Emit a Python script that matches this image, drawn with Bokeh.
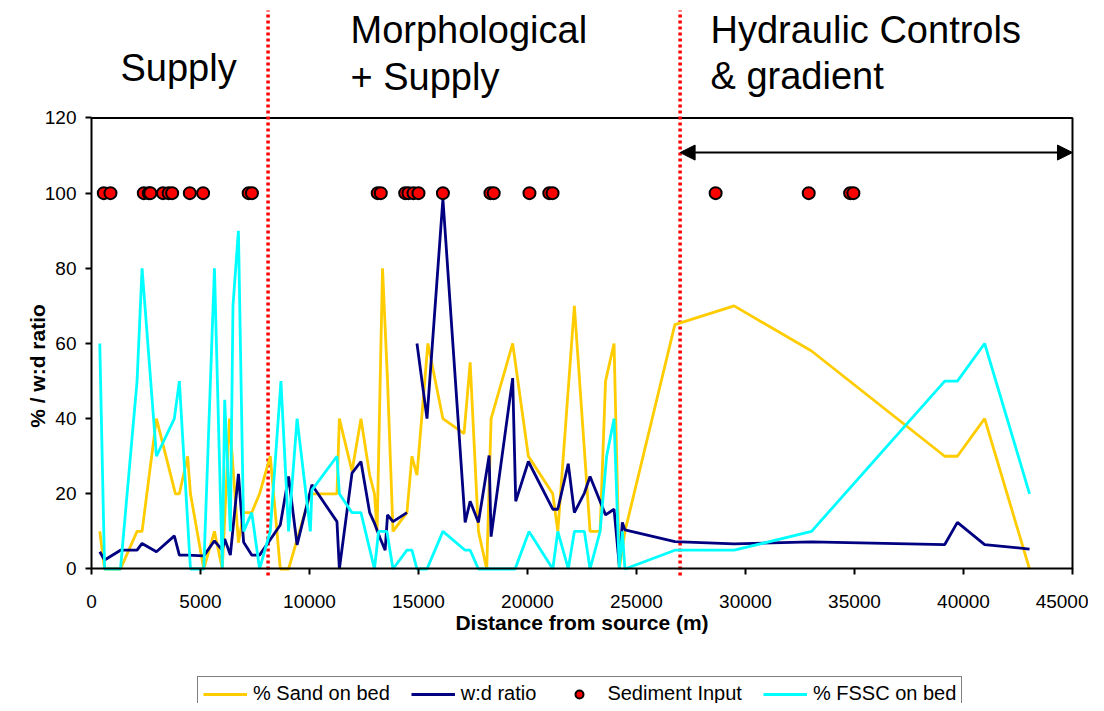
import numpy as np
from bokeh.plotting import figure
from bokeh.models import (Range1d, Label, Legend, LegendItem, Arrow, NormalHead,
                          SingleIntervalTicker)
from bokeh.embed import file_html
from bokeh.resources import INLINE

FONT = "Liberation Sans"

# ---------------- data ----------------
sand_x = [380, 600, 1330, 2090, 2320, 2980, 3850, 4030, 4410, 4540, 5150, 5640, 6000,
          6330, 6740, 6980, 7350, 7710, 8200, 8660, 9040, 10040, 11260, 11370, 11950,
          12360, 12760, 12980, 13100, 13350, 13580, 13830, 14470, 14700, 14930, 15430,
          16120, 17090, 17370, 17750, 18130, 18330, 19320, 20040, 21160, 21390, 22150,
          22870, 23330, 23580, 23970, 24210, 24470, 26760, 29480, 33030, 39140, 39720,
          40970, 43030]
sand_y = [10, 0, 0, 10, 10, 40, 20, 20, 30, 20, 0, 10, 0,
          40, 7, 15, 15, 20, 30, 0, 0, 20, 20, 40, 26,
          40, 25, 20, 10, 80, 50, 10, 15, 30, 25, 60,
          40, 36, 55, 10, 0, 40, 60, 30, 20, 10, 70,
          10, 10, 50, 60, 0, 10, 65, 70, 58, 30, 30,
          40, 0]

wd_x = [380, 600, 1330, 2090, 2320, 2980, 3800, 4030, 4410, 5150, 5640, 6000, 6110,
        6370, 6740, 6980, 7350, 7710, 8660, 9040, 9430, 10110, 11260, 11370, 11950,
        12360, 12760, 12980, 13240, 13470, 13580, 13830, 14470, 14700, 14930, 15390,
        16120, 17140, 17370, 17750, 18240, 18330, 19320, 19460, 20040, 21160, 21390,
        21870, 22150, 22610, 22870, 23580, 23970, 24210, 24350, 24470, 26760, 29480,
        33030, 39140, 39720, 40970, 43030]
wd_y = [4.6, 2.4, 5, 5, 6.8, 4.6, 8.8, 3.7, 3.7, 3.5, 7.5, 5, 8,
        3.7, 25.3, 7.1, 3.7, 3.7, 11.7, 24.6, 6.4, 22.4, 12.6, 0, 25.5,
        28.6, 15, 12.2, 8.2, 5, 14.4, 12.6, 15, np.nan, 60, 40,
        98.5, 12.4, 18, 12.4, 30.2, 8.6, 50.8, 18, 28.6, 15.9, 15.9,
        28, 15, 20.2, 24.6, 14.4, 15.9, 1, 12.4, 10.4, 7.3, 6.7,
        7.2, 6.5, 12.4, 6.5, 5.3]

fssc_x = [380, 600, 1330, 2090, 2320, 2980, 3800, 4030, 4540, 5150, 5640, 6000, 6110,
          6370, 6490, 6740, 6980, 7350, 7710, 8200, 8690, 9040, 9430, 10040, 10110,
          11260, 11370, 11950, 12360, 12980, 13170, 13550, 13830, 14470, 14700, 14930,
          15390, 16120, 17140, 17370, 17750, 19430, 20070, 21160, 21390, 21870, 22150,
          22610, 22870, 23330, 23630, 23970, 24210, 24350, 24470, 26760, 29480, 33030,
          39140, 39720, 40970, 43030]
fssc_y = [60, 0, 0, 50, 80, 30, 40, 50, 0, 0, 80, 0, 45,
          10, 70, 90, 10, 15, 0, 10, 50, 10, 40, 10, 21,
          30, 20, 15, 15, 0, 10, 10, 0, 5, 5, 0,
          0, 10, 5, 5, 0, 0, 10, 0, 10, 0, 10,
          10, 0, 10, 30, 40, 0, 10, 0, 5, 5, 10,
          50, 50, 60, 20]

sediment_x = [565, 870, 2400, 2630, 2700, 3280, 3540, 3700, 4510, 5120, 7210, 7360,
              13130, 13270, 14390, 14540, 14770, 15000, 16120, 18300, 18450, 20090,
              21000, 21150, 28630, 32900, 34800, 34950]
sediment_y = [100] * len(sediment_x)

zone_bounds = [8100, 27000]          # red dotted zone boundaries (m)
x_ticks_step = 5000
y_ticks_step = 20
X_MAX = 45000
Y_MAX = 120

# ---------------- figure ----------------
p = figure(width=1088, height=703, output_backend="svg", toolbar_location=None,
           x_range=Range1d(-4174, 45734), y_range=Range1d(-35.79, 151.26),
           min_border_left=0, min_border_right=0, min_border_top=0,
           min_border_bottom=0)
p.outline_line_color = None
p.background_fill_color = "white"
p.border_fill_color = "white"
p.xgrid.visible = False
p.ygrid.visible = False

xax = p.xaxis[0]
yax = p.yaxis[0]
xax.fixed_location = 0
yax.fixed_location = 0
xax.bounds = (0, X_MAX)
yax.bounds = (0, Y_MAX)
xax.ticker = SingleIntervalTicker(interval=x_ticks_step)
yax.ticker = SingleIntervalTicker(interval=y_ticks_step)
for ax in (xax, yax):
    ax.axis_line_color = "black"
    ax.axis_line_width = 2
    ax.major_tick_line_color = "black"
    ax.major_tick_line_width = 2
    ax.major_tick_in = 0
    ax.major_tick_out = 6
    ax.minor_tick_line_color = None
    ax.major_label_text_font = FONT
    ax.major_label_text_font_size = "19px"
    ax.major_label_text_color = "black"
    ax.axis_label_text_font = FONT
    ax.axis_label_text_font_size = "21px"
    ax.axis_label_text_font_style = "bold"
    ax.axis_label_text_color = "black"
xax.major_label_standoff = 20
xax.axis_label_standoff = 0
yax.major_label_standoff = 9
xax.axis_label = "Distance from source (m)"

# y-axis title (placed as in the original, a little below the axis centre)
p.add_layout(Label(x=-2480, y=54, text="% / w:d ratio", angle=np.pi / 2,
                   text_font=FONT, text_font_size="21px", text_font_style="bold",
                   text_color="black", text_align="center", text_baseline="middle"))

# plot box (top and right edges)
p.line([0, X_MAX, X_MAX], [Y_MAX, Y_MAX, 0], line_color="black", line_width=2)

# zone boundaries
p.segment(x0=zone_bounds, y0=-1.7, x1=zone_bounds, y1=148.6,
          line_color="#FF0000", line_width=3.5, line_dash="3 3")

# series
r_sand = p.line(sand_x, sand_y, line_color="#FFCC00", line_width=2.8)
r_wd = p.line(wd_x, np.array(wd_y, dtype=float), line_color="#000080", line_width=2.8)
r_fssc = p.line(fssc_x, fssc_y, line_color="#00FFFF", line_width=2.8)
r_sed = p.scatter(sediment_x, sediment_y, size=12, fill_color="#FF0000",
                  line_color="black", line_width=2)

# arrow across hydraulic zone
head = dict(size=15, fill_color="black", line_color="black")
p.add_layout(Arrow(start=NormalHead(**head), end=NormalHead(**head),
                   x_start=zone_bounds[1], y_start=110.8, x_end=X_MAX, y_end=110.8,
                   line_color="black", line_width=2))

# zone titles
for txt, x, y in [("Supply", 1330, 133.2),
                  ("Morphological", 11881, 143.5), ("+ Supply", 11881, 130.9),
                  ("Hydraulic Controls", 28394, 143.4), ("& gradient", 28394, 131.1)]:
    p.add_layout(Label(x=x, y=y, text=txt, text_font=FONT, text_font_size="38px",
                       text_color="black", text_baseline="alphabetic"))

legend = Legend(items=[LegendItem(label="% Sand on bed", renderers=[r_sand]),
                       LegendItem(label="w:d ratio", renderers=[r_wd]),
                       LegendItem(label="Sediment Input", renderers=[r_sed]),
                       LegendItem(label="% FSSC on bed", renderers=[r_fssc])],
                orientation="horizontal", location=(197, -8), margin=0,
                label_text_font=FONT, label_text_font_size="20px",
                label_text_color="black",
                border_line_color="black", border_line_width=1.5,
                background_fill_color="white", background_fill_alpha=1,
                glyph_width=44, glyph_height=20, spacing=21, padding=5,
                label_standoff=6)
p.add_layout(legend, "center")

open("out.html", "w").write(file_html(p, INLINE))
